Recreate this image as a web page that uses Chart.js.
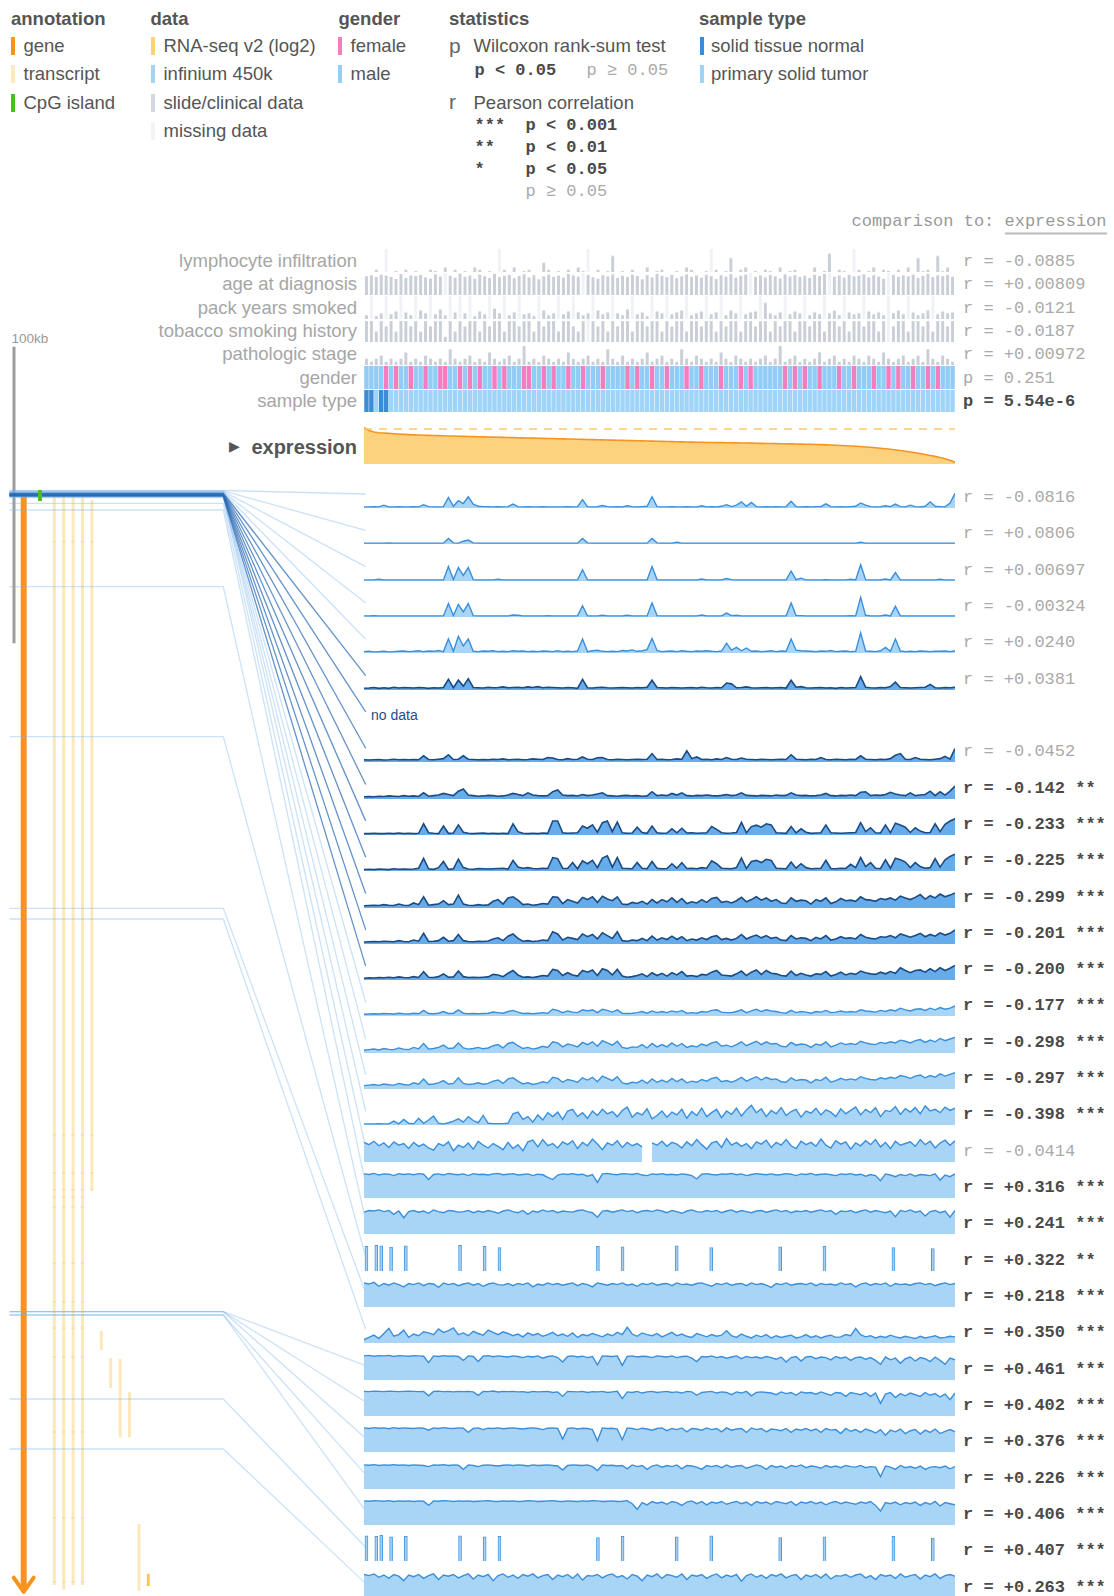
<!DOCTYPE html>
<html>
<head>
<meta charset="utf-8">
<title>Methylation and expression overview</title>
<script src="https://cdn.jsdelivr.net/npm/chart.js@4.4.1/dist/chart.umd.min.js"></script>
<style>
  html, body { margin: 0; padding: 0; background: #fff; }
  #page { position: relative; width: 1114px; height: 1596px; overflow: hidden; background: #fff; }
  .t { position: absolute; white-space: pre; line-height: 1; }
  canvas { position: absolute; }
</style>
</head>
<body>
<div id="page"></div>
<script>
// ---------------------------------------------------------------------------
// Data: samples ordered by expression (high to low)
// ---------------------------------------------------------------------------
const N = 120;
const sampleIdx = Array.from({ length: N }, (_, i) => i);

// RNA-seq v2 expression (log2), sorted
const expression = [
  12.40, 11.89, 11.63, 11.50, 11.44, 11.38, 11.32, 11.26, 11.21, 11.16,
  11.12, 11.09, 11.06, 11.03, 11.00, 10.98, 10.96, 10.93, 10.91, 10.88,
  10.86, 10.83, 10.81, 10.78, 10.76, 10.74, 10.72, 10.70, 10.68, 10.65,
  10.63, 10.61, 10.59, 10.57, 10.55, 10.53, 10.51, 10.49, 10.47, 10.44,
  10.42, 10.40, 10.38, 10.35, 10.33, 10.31, 10.28, 10.26, 10.24, 10.21,
  10.19, 10.17, 10.15, 10.12, 10.10, 10.08, 10.06, 10.03, 10.01, 9.99,
  9.97, 9.95, 9.93, 9.91, 9.89, 9.87, 9.85, 9.83, 9.81, 9.79,
  9.78, 9.76, 9.75, 9.73, 9.72, 9.71, 9.69, 9.68, 9.66, 9.64,
  9.63, 9.61, 9.60, 9.58, 9.56, 9.55, 9.53, 9.51, 9.49, 9.48,
  9.46, 9.43, 9.40, 9.36, 9.33, 9.29, 9.25, 9.21, 9.16, 9.12,
  9.07, 9.00, 8.93, 8.85, 8.77, 8.69, 8.58, 8.47, 8.36, 8.24,
  8.11, 7.97, 7.82, 7.66, 7.50, 7.34, 7.14, 6.92, 6.65, 6.32
];
const expressionCeiling = 12.15;
const expressionRange = [6.0, 12.5];

// Clinical data (null = missing)
const lymphocyteInfiltration = [
  0, 0, 5, 0, null, 0, 2, 0, 5, 0,
  2, 0, 0, 5, 2, 0, 10, 0, 5, 0,
  2, 0, 10, 5, 0, 2, 0, null, 5, 0,
  10, 0, 2, 5, 0, 0, 20, 5, 0, 2,
  0, 5, 0, 10, 2, null, 0, 5, 0, 2,
  35, 0, 2, 0, 5, 0, 0, 10, 0, 2,
  5, 0, 0, 2, 0, 10, 5, 0, 0, 2,
  null, 5, 0, 2, 30, 0, 5, 10, 0, 2,
  0, 5, 2, 0, 10, 0, 2, 5, 0, 0,
  0, 10, 0, 2, 40, 0, 5, 2, 0, null,
  5, 0, 2, 10, 0, 5, 2, 0, 5, 0,
  10, 0, 30, 2, 5, 0, 35, 2, 10, 0
];
const ageAtDiagnosis = [
  68, 72, 65, 74, 70, 66, 58, 76, 62, 71,
  69, 73, 64, 60, 75, 67, null, 70, 63, 78,
  66, 71, 59, 74, 68, 62, 77, 65, 70, 73,
  61, 69, 75, 64, 72, 57, 68, 74, 66, 70,
  63, 76, 71, 67, null, 73, 65, 59, 72, 68,
  75, 62, 70, 66, 74, 69, 57, 72, 64, 77,
  70, 65, 73, 61, 68, 75, 66, 71, 63, 74,
  69, 58, 72, 67, 76, 63, 70, 74, null, 66,
  71, 64, 73, 68, 60, 75, 67, 72, 65, 70,
  62, 74, 69, 76, null, 66, 71, 63, 73, 68,
  70, 75, 64, 72, 67, 59, null, 73, 66, 71,
  68, 74, 62, 70, 77, 65, 72, 69, 73, 67
];
const packYearsSmoked = [
  20, null, 15, 30, null, 25, 40, null, 35, 20,
  null, 45, 30, null, 25, 50, 20, null, 35, null,
  30, null, 15, 40, 25, null, 55, 30, null, 20,
  35, null, 25, 30, 15, null, 45, 20, 30, null,
  25, 40, null, 35, 20, 30, null, 45, 25, 35,
  null, 30, 20, 50, null, 25, 35, 15, null, 40,
  30, null, 25, 35, 45, null, 20, 30, 40, null,
  25, 35, null, 20, 45, 30, null, 25, 35, 40,
  null, 85, 30, 20, 35, null, 25, 40, 30, null,
  20, 35, 25, null, 30, 45, 20, null, 35, 25,
  30, null, 40, 25, 35, 20, null, 30, 45, 25,
  null, 35, 20, 30, 45, null, 25, 40, 30, 35
];
const tobaccoSmokingHistory = [
  4, 4, 2, 4, 3, 4, 2, 4, 4, 3,
  4, 2, 4, 3, 4, 4, 1, 4, 2, 4,
  3, 4, 4, 2, 4, 3, 4, 4, 2, 4,
  4, 3, 4, 4, 2, 4, 3, 4, 4, 2,
  4, 4, 3, 2, 4, null, 4, 3, 4, 2,
  4, 3, 4, 4, 2, 4, 4, 3, 4, 4,
  2, 4, 3, 4, 4, 2, 4, 4, 3, 4,
  4, 2, 4, 3, 4, 4, 2, 4, 4, 3,
  4, 4, 2, 4, 3, 4, 4, 2, 4, 4,
  3, 4, 4, 2, 4, 4, 3, 4, 2, 4,
  4, 3, 4, 4, 2, 4, null, 3, 4, 4,
  2, 4, 4, 3, 4, 2, 4, 4, 3, 4
];
const pathologicStage = [
  2, 1, 2, 3, 1, 2, 1, 2, 4, 1,
  2, 1, 3, 2, 1, 2, 1, 5, 2, 1,
  2, 3, 1, 2, 1, 4, 2, 1, 2, 3,
  1, 2, 6, 1, 2, 1, 3, 2, 1, 2,
  1, 4, 2, 1, 2, 3, 1, 2, 1, 5,
  2, 1, 3, 1, 2, 1, 2, 4, 1, 2,
  3, 1, 2, 1, 5, 2, 1, 3, 2, 1,
  2, 1, 4, 2, 1, 3, 2, 1, 2, 1,
  2, 3, 1, 2, 6, 1, 2, 3, 1, 2,
  1, 2, 4, 1, 2, 3, 1, 2, 1, 3,
  2, 1, 3, 2, 1, 4, 2, 1, 2, 3,
  1, 2, 3, 1, 5, 2, 1, 3, 2, 1
];
const femaleSamples = [4, 6, 9, 12, 15, 16, 19, 21, 23, 26, 28, 32, 33, 36, 38, 41, 44, 48, 53, 55,
  58, 61, 65, 68, 72, 76, 78, 85, 87, 89, 92, 96, 99, 103, 106, 108, 111, 114, 116];
const normalSamples = [0, 1, 3, 4];

const clinicalNames = ['lymphocyte infiltration', 'age at diagnosis', 'pack years smoked',
  'tobacco smoking history', 'pathologic stage', 'gender', 'sample type'];
const clinicalCorr = [-0.0885, 0.00809, -0.0121, -0.0187, 0.00972];
const genderP = 0.251;
const sampleTypeP = 5.54e-6;

// Infinium 450k beta values (x100), one array per probe, in genomic order
const meth01 = [
  4, 4, 5, 4, 10, 4, 4, 5, 4, 4,
  5, 4, 12, 5, 4, 4, 5, 38, 6, 26,
  16, 40, 14, 6, 5, 5, 4, 5, 4, 5,
  14, 5, 4, 5, 4, 4, 5, 4, 4, 4,
  4, 5, 4, 5, 30, 5, 4, 5, 9, 5,
  4, 5, 4, 8, 5, 4, 5, 6, 40, 5,
  4, 4, 5, 4, 4, 5, 4, 4, 8, 4,
  5, 4, 6, 12, 5, 10, 22, 6, 20, 5,
  4, 5, 4, 5, 4, 5, 24, 5, 4, 5,
  4, 5, 5, 15, 5, 4, 5, 4, 5, 6,
  18, 10, 5, 4, 5, 8, 5, 14, 5, 4,
  10, 5, 4, 6, 22, 6, 5, 4, 18, 52
];
const meth02 = [
  3, 3, 3, 3, 3, 4, 3, 3, 3, 3,
  3, 3, 3, 3, 3, 3, 3, 20, 4, 3,
  10, 14, 4, 3, 3, 3, 3, 3, 3, 3,
  3, 3, 3, 3, 3, 3, 3, 3, 3, 3,
  3, 3, 3, 3, 20, 4, 3, 3, 3, 3,
  3, 3, 3, 3, 3, 3, 3, 3, 20, 4,
  3, 3, 3, 6, 3, 3, 3, 3, 3, 3,
  3, 3, 3, 3, 3, 3, 3, 3, 3, 3,
  3, 3, 3, 3, 3, 3, 3, 3, 3, 3,
  3, 3, 3, 3, 3, 3, 3, 3, 3, 3,
  6, 3, 3, 3, 3, 3, 3, 3, 3, 3,
  3, 3, 3, 3, 3, 3, 3, 3, 3, 3
];
const meth03 = [
  4, 4, 4, 6, 4, 4, 4, 4, 4, 4,
  4, 4, 4, 4, 4, 4, 4, 52, 5, 48,
  20, 48, 5, 4, 4, 4, 4, 6, 4, 4,
  4, 4, 4, 4, 4, 4, 4, 4, 4, 4,
  4, 4, 4, 4, 40, 4, 4, 4, 4, 4,
  4, 4, 4, 4, 4, 4, 4, 4, 52, 5,
  4, 4, 4, 4, 4, 4, 4, 4, 7, 4,
  4, 4, 4, 9, 5, 4, 4, 4, 4, 4,
  4, 4, 4, 4, 4, 4, 35, 5, 10, 4,
  4, 4, 4, 5, 4, 4, 4, 4, 6, 4,
  58, 5, 4, 4, 4, 7, 4, 30, 4, 4,
  4, 4, 4, 4, 4, 4, 6, 4, 4, 4
];
const meth04 = [
  4, 4, 5, 4, 4, 4, 4, 4, 4, 4,
  4, 4, 4, 4, 4, 4, 4, 48, 5, 45,
  18, 48, 5, 4, 4, 4, 4, 4, 4, 4,
  7, 6, 4, 4, 4, 4, 4, 5, 4, 4,
  4, 4, 4, 4, 40, 4, 4, 4, 6, 4,
  4, 4, 4, 6, 4, 4, 4, 4, 50, 5,
  4, 4, 4, 4, 4, 4, 4, 4, 7, 4,
  4, 4, 4, 14, 5, 6, 4, 4, 4, 4,
  4, 4, 4, 4, 4, 4, 50, 5, 5, 4,
  4, 4, 4, 4, 4, 4, 4, 4, 5, 4,
  70, 6, 4, 4, 4, 7, 4, 38, 4, 4,
  4, 4, 4, 4, 4, 4, 4, 4, 4, 4
];
const meth05 = [
  5, 6, 4, 5, 6, 4, 5, 6, 7, 5,
  6, 8, 5, 7, 6, 9, 5, 50, 6, 60,
  25, 50, 6, 5, 7, 6, 8, 5, 6, 5,
  8, 6, 7, 5, 6, 5, 7, 6, 5, 8,
  5, 6, 5, 7, 50, 5, 8, 10, 6, 5,
  6, 5, 9, 7, 11, 6, 8, 12, 52, 9,
  5, 6, 7, 5, 8, 6, 5, 7, 6, 8,
  6, 5, 7, 35, 10, 20, 8, 18, 6, 7,
  5, 6, 8, 5, 7, 6, 50, 10, 8, 7,
  6, 5, 7, 6, 9, 5, 6, 7, 5, 6,
  72, 7, 6, 5, 8, 20, 6, 50, 7, 5,
  6, 5, 7, 6, 5, 6, 6, 7, 5, 8
];
const meth06 = [
  6, 7, 9, 6, 8, 6, 10, 7, 9, 8,
  7, 9, 8, 6, 8, 7, 9, 38, 8, 35,
  14, 40, 9, 8, 7, 10, 8, 9, 11, 8,
  9, 10, 8, 11, 9, 12, 8, 10, 9, 8,
  7, 9, 8, 6, 38, 8, 7, 9, 10, 8,
  7, 8, 9, 8, 7, 9, 8, 10, 35, 9,
  8, 7, 9, 8, 7, 8, 9, 7, 10, 8,
  7, 9, 8, 25, 22, 8, 9, 11, 8, 7,
  8, 9, 7, 8, 9, 7, 35, 10, 12, 8,
  7, 8, 9, 7, 8, 6, 9, 7, 8, 9,
  48, 10, 8, 7, 9, 8, 12, 28, 9, 8,
  7, 8, 9, 10, 20, 8, 7, 9, 8, 10
];
const meth07 = null; // probe without measurements
const meth08 = [
  8, 7, 8, 9, 7, 8, 10, 8, 9, 8,
  9, 8, 22, 9, 8, 10, 12, 26, 9, 10,
  22, 10, 9, 8, 9, 8, 10, 9, 11, 8,
  9, 10, 8, 9, 11, 10, 9, 16, 14, 9,
  8, 12, 9, 10, 18, 10, 9, 15, 16, 9,
  8, 10, 9, 8, 9, 10, 9, 10, 30, 9,
  10, 8, 9, 11, 10, 40, 12, 18, 9, 10,
  8, 11, 9, 16, 10, 9, 14, 10, 9, 8,
  10, 9, 8, 9, 10, 9, 26, 10, 9, 8,
  10, 9, 16, 9, 8, 10, 9, 8, 10, 9,
  22, 10, 9, 8, 10, 9, 12, 24, 30, 10,
  9, 16, 10, 9, 8, 10, 12, 20, 10, 48
];
const meth09 = [
  8, 9, 8, 10, 9, 11, 10, 9, 12, 10,
  11, 9, 22, 10, 12, 14, 20, 16, 12, 28,
  36, 14, 12, 10, 11, 13, 12, 10, 11, 14,
  20, 16, 12, 22, 14, 12, 11, 12, 26, 32,
  14, 12, 13, 11, 16, 12, 14, 18, 22, 12,
  11, 10, 12, 13, 11, 12, 10, 11, 26, 12,
  14, 12, 20, 14, 22, 12, 11, 13, 12, 14,
  12, 11, 13, 16, 12, 14, 22, 13, 12, 11,
  13, 12, 11, 14, 12, 13, 22, 14, 12, 13,
  11, 12, 14, 20, 12, 11, 13, 12, 14, 12,
  24, 26, 12, 14, 13, 16, 24, 18, 14, 12,
  22, 12, 14, 16, 28, 12, 26, 14, 28, 46
];
const meth10 = [
  5, 5, 6, 5, 5, 6, 5, 7, 5, 6,
  5, 6, 40, 8, 6, 5, 32, 6, 7, 36,
  10, 6, 5, 6, 7, 5, 6, 5, 6, 5,
  40, 12, 6, 5, 6, 5, 7, 6, 50, 50,
  8, 6, 7, 8, 32, 24, 36, 10, 44, 50,
  12, 46, 8, 6, 7, 28, 9, 6, 32, 8,
  6, 7, 22, 8, 24, 7, 8, 6, 7, 8,
  30, 20, 8, 6, 7, 9, 45, 8, 30, 35,
  28, 40, 36, 8, 7, 6, 30, 8, 22, 10,
  6, 7, 8, 36, 8, 7, 6, 7, 8, 9,
  44, 12, 26, 8, 7, 36, 8, 42, 36, 28,
  9, 26, 14, 8, 9, 40, 12, 38, 50, 58
];
const meth11 = [
  5, 6, 5, 7, 6, 5, 8, 6, 7, 6,
  7, 10, 45, 8, 6, 12, 34, 6, 8, 42,
  12, 7, 6, 9, 8, 7, 8, 9, 10, 7,
  38, 14, 10, 12, 9, 8, 10, 9, 48, 44,
  10, 9, 30, 8, 36, 26, 38, 12, 46, 54,
  14, 48, 10, 9, 8, 30, 10, 8, 34, 10,
  8, 9, 26, 10, 30, 9, 10, 8, 12, 10,
  36, 26, 10, 9, 8, 12, 46, 9, 34, 38,
  30, 42, 38, 10, 9, 8, 32, 10, 26, 12,
  8, 9, 10, 38, 9, 8, 10, 9, 24, 12,
  48, 16, 30, 10, 9, 40, 10, 46, 40, 32,
  12, 30, 16, 10, 12, 44, 14, 40, 52, 60
];
const meth12 = [
  8, 9, 10, 9, 12, 10, 9, 14, 10, 9,
  18, 12, 40, 10, 12, 14, 26, 12, 14, 46,
  14, 10, 9, 12, 10, 11, 24, 30, 14, 36,
  40, 28, 12, 14, 10, 12, 16, 14, 40, 38,
  16, 30, 24, 18, 38, 30, 40, 20, 42, 32,
  26, 40, 14, 12, 20, 16, 24, 14, 30, 18,
  30, 22, 36, 20, 34, 16, 22, 18, 30, 20,
  34, 38, 20, 24, 18, 26, 38, 22, 30, 40,
  28, 36, 24, 30, 18, 16, 36, 24, 28, 26,
  14, 30, 24, 36, 16, 22, 34, 26, 28, 24,
  40, 30, 28, 24, 34, 30, 36, 28, 42, 36,
  30, 38, 48, 32, 44, 36, 50, 40, 46, 54
];
const meth13 = [
  7, 8, 9, 8, 10, 9, 8, 12, 9, 8,
  14, 10, 38, 9, 10, 12, 24, 10, 12, 34,
  12, 9, 8, 10, 9, 11, 18, 22, 12, 28,
  36, 20, 10, 12, 9, 11, 14, 12, 44, 36,
  14, 24, 20, 16, 36, 26, 34, 18, 40, 30,
  20, 44, 12, 10, 14, 12, 20, 12, 28, 14,
  22, 16, 28, 16, 26, 12, 18, 14, 22, 16,
  26, 30, 16, 20, 14, 20, 34, 18, 26, 32,
  22, 30, 20, 24, 14, 12, 30, 18, 22, 20,
  12, 24, 18, 30, 14, 18, 26, 20, 22, 18,
  34, 24, 20, 18, 26, 24, 30, 22, 36, 30,
  24, 30, 38, 26, 34, 28, 40, 32, 38, 50
];
const meth14 = [
  6, 8, 7, 9, 8, 10, 8, 11, 9, 8,
  12, 9, 30, 10, 9, 12, 22, 10, 11, 32,
  12, 9, 10, 9, 10, 11, 20, 18, 12, 24,
  34, 18, 10, 11, 9, 12, 16, 14, 38, 34,
  16, 26, 18, 14, 34, 28, 36, 16, 40, 34,
  18, 38, 14, 10, 12, 16, 22, 12, 26, 16,
  24, 14, 26, 18, 30, 14, 16, 12, 20, 18,
  28, 34, 18, 16, 14, 22, 32, 16, 28, 36,
  20, 34, 24, 22, 16, 14, 32, 16, 24, 18,
  14, 22, 20, 30, 14, 20, 28, 18, 24, 20,
  32, 26, 22, 20, 28, 22, 30, 24, 44, 34,
  26, 34, 36, 28, 40, 30, 44, 34, 42, 52
];
const meth15 = [
  6, 7, 8, 7, 9, 8, 7, 10, 8, 7,
  10, 8, 20, 9, 8, 10, 16, 9, 10, 22,
  10, 8, 9, 8, 9, 10, 14, 12, 10, 16,
  20, 14, 9, 10, 8, 10, 12, 10, 24, 20,
  12, 18, 14, 12, 22, 18, 22, 12, 24, 20,
  14, 22, 10, 9, 10, 12, 16, 10, 18, 12,
  16, 12, 18, 14, 20, 10, 12, 10, 16, 14,
  20, 22, 14, 12, 12, 16, 22, 12, 18, 24,
  16, 22, 18, 16, 12, 10, 20, 12, 16, 14,
  10, 16, 14, 20, 12, 14, 18, 14, 16, 14,
  22, 18, 16, 14, 20, 16, 22, 18, 28, 22,
  18, 24, 26, 20, 28, 22, 30, 24, 28, 36
];
const meth16 = [
  10, 12, 14, 11, 16, 13, 12, 18, 14, 12,
  20, 15, 34, 14, 16, 20, 28, 16, 18, 36,
  18, 14, 16, 20, 15, 18, 26, 30, 18, 34,
  38, 26, 16, 20, 14, 18, 24, 20, 40, 36,
  22, 32, 28, 22, 38, 30, 40, 24, 44, 36,
  28, 42, 20, 16, 22, 20, 30, 18, 34, 22,
  30, 22, 36, 24, 34, 20, 26, 22, 32, 26,
  36, 40, 24, 28, 22, 30, 40, 26, 34, 42,
  30, 40, 32, 34, 24, 22, 38, 28, 32, 30,
  20, 32, 28, 40, 22, 28, 36, 30, 34, 30,
  42, 36, 32, 30, 38, 34, 40, 36, 46, 42,
  36, 44, 48, 38, 46, 40, 52, 44, 50, 56
];
const meth17 = [
  12, 14, 16, 13, 18, 15, 14, 20, 16, 14,
  22, 17, 36, 16, 18, 22, 30, 18, 20, 40,
  20, 16, 18, 22, 17, 20, 28, 32, 20, 36,
  40, 28, 18, 22, 16, 20, 26, 22, 42, 38,
  24, 34, 30, 24, 40, 32, 42, 26, 46, 38,
  30, 44, 22, 18, 24, 22, 32, 20, 36, 24,
  32, 24, 38, 26, 36, 22, 28, 24, 34, 28,
  38, 42, 26, 30, 24, 32, 42, 28, 36, 44,
  32, 42, 34, 36, 26, 24, 40, 30, 34, 32,
  22, 34, 30, 42, 24, 30, 38, 32, 36, 32,
  44, 38, 34, 32, 40, 36, 42, 38, 48, 44,
  38, 46, 50, 40, 48, 42, 54, 46, 52, 58
];
const meth18 = [
  4, 4, 4, 5, 4, 4, 14, 4, 20, 6,
  4, 24, 6, 18, 32, 6, 4, 8, 14, 22,
  10, 30, 16, 8, 34, 6, 5, 5, 5, 6,
  40, 46, 20, 30, 10, 36, 18, 44, 30, 46,
  20, 50, 56, 30, 44, 24, 50, 34, 56, 40,
  48, 30, 52, 64, 28, 44, 36, 58, 22, 34,
  50, 28, 46, 36, 56, 24, 48, 34, 60, 30,
  44, 56, 26, 50, 38, 60, 32, 54, 70, 44,
  58, 30, 52, 40, 62, 34, 48, 56, 28, 50,
  42, 60, 36, 54, 46, 30, 58, 40, 52, 64,
  36, 56, 44, 62, 30, 52, 48, 66, 38, 58,
  46, 62, 40, 68, 50, 56, 44, 64, 52, 60
];
const meth19 = [
  70, 62, 74, 58, 68, 52, 72, 60, 66, 48,
  70, 56, 64, 50, 42, 66, 58, 72, 40, 60,
  52, 68, 46, 74, 60, 50, 66, 56, 44, 70,
  48, 62, 40, 72, 78, 54, 80, 58, 66, 50,
  72, 62, 76, 48, 70, 58, 82, 64, 44, 68,
  60, 76, 52, 70, 58, 66, 54, null, 68, 60,
  74, 56, 70, 64, 50, 72, 58, 80, 62, 46,
  68, 74, 52, 84, 60, 70, 56, 66, 48, 72,
  64, 78, 52, 70, 60, 80, 58, 48, 74, 62,
  70, 56, 82, 60, 50, 76, 64, 72, 46, 68,
  58, 76, 62, 80, 54, 70, 48, 74, 60, 66,
  72, 56, 80, 62, 74, 50, 68, 78, 60, 76
];
const meth20 = [
  86, 84, 88, 82, 86, 85, 80, 87, 84, 86,
  83, 87, 85, 66, 84, 86, 82, 88, 85, 83,
  86, 80, 87, 84, 85, 82, 86, 88, 83, 85,
  87, 82, 84, 86, 80, 85, 83, 74, 66, 82,
  86, 84, 87, 83, 85, 78, 84, 56, 86, 88,
  85, 83, 87, 86, 84, 88, 82, 80, 86, 84,
  87, 83, 85, 82, 86, 84, 80, 68, 85, 87,
  84, 82, 86, 85, 88, 83, 86, 80, 84, 87,
  85, 83, 86, 82, 84, 87, 85, 80, 86, 84,
  88, 82, 85, 86, 83, 80, 86, 84, 87, 82,
  85, 78, 84, 80, 62, 86, 82, 76, 84, 80,
  86, 78, 84, 82, 80, 86, 64, 82, 76, 86
];
const meth21 = [
  78, 84, 82, 86, 80, 84, 70, 82, 58, 80,
  84, 78, 82, 74, 86, 80, 76, 84, 82, 78,
  80, 84, 76, 82, 78, 84, 80, 74, 82, 86,
  80, 76, 84, 70, 82, 78, 86, 80, 84, 76,
  82, 80, 78, 84, 86, 80, 76, 60, 82, 84,
  78, 82, 86, 80, 84, 76, 82, 84, 80, 86,
  82, 76, 84, 80, 74, 82, 86, 80, 78, 84,
  80, 84, 76, 82, 86, 78, 84, 80, 76, 82,
  84, 78, 82, 86, 80, 84, 76, 82, 80, 84,
  78, 82, 86, 80, 84, 70, 82, 80, 84, 76,
  82, 86, 78, 84, 80, 76, 82, 62, 84, 80,
  86, 78, 82, 64, 80, 84, 76, 82, 60, 84
];
// probe measured in only a few samples
const meth22Samples = [0, 2, 3, 5, 8, 19, 24, 27, 47, 52, 63, 70, 84, 93, 107, 115];
const meth22Values = [88, 92, 90, 85, 90, 92, 88, 84, 88, 86, 90, 84, 86, 88, 84, 80];
const meth23 = [
  86, 82, 88, 74, 84, 78, 86, 80, 72, 84,
  80, 86, 76, 84, 82, 70, 86, 80, 84, 76,
  82, 86, 78, 84, 74, 82, 86, 80, 78, 84,
  76, 84, 80, 86, 72, 82, 78, 86, 80, 84,
  78, 82, 86, 76, 84, 80, 72, 86, 82, 78,
  84, 80, 86, 78, 82, 74, 84, 80, 86, 78,
  82, 84, 76, 86, 80, 82, 78, 84, 86, 80,
  74, 84, 80, 86, 78, 82, 84, 76, 86, 80,
  84, 78, 70, 84, 80, 86, 78, 82, 84, 80,
  86, 76, 84, 80, 82, 78, 86, 80, 84, 72,
  82, 86, 78, 84, 80, 86, 74, 84, 80, 82,
  78, 84, 86, 80, 84, 76, 82, 86, 80, 84
];
const meth24 = [
  12, 20, 28, 16, 34, 52, 24, 30, 46, 20,
  32, 26, 40, 36, 30, 50, 38, 44, 54, 30,
  36, 26, 42, 34, 28, 46, 38, 30, 40, 34,
  26, 32, 22, 36, 28, 34, 24, 30, 38, 26,
  32, 24, 36, 20, 30, 26, 34, 28, 22, 32,
  26, 38, 30, 56, 32, 24, 36, 30, 26, 34,
  22, 30, 38, 26, 32, 24, 20, 34, 28, 22,
  30, 24, 28, 44, 26, 20, 32, 24, 18, 28,
  22, 30, 18, 26, 20, 24, 28, 18, 22, 30,
  20, 26, 18, 24, 28, 20, 22, 30, 26, 52,
  30, 22, 26, 18, 24, 20, 28, 22, 18, 24,
  20, 16, 24, 18, 22, 26, 18, 20, 24, 22
];
const meth25 = [
  86, 88, 85, 87, 86, 88, 84, 87, 86, 85,
  87, 86, 85, 62, 86, 84, 87, 85, 86, 84,
  70, 86, 84, 66, 85, 87, 83, 86, 84, 82,
  86, 84, 80, 85, 82, 86, 78, 84, 86, 80,
  64, 84, 86, 82, 85, 80, 84, 54, 86, 85,
  84, 86, 52, 84, 86, 82, 85, 84, 80, 86,
  84, 82, 86, 80, 84, 85, 78, 66, 84, 82,
  86, 80, 84, 78, 82, 86, 76, 84, 80, 82,
  78, 84, 80, 74, 82, 64, 80, 84, 68, 82,
  84, 76, 82, 80, 72, 84, 78, 82, 70, 80,
  82, 74, 80, 70, 56, 82, 72, 78, 60, 76,
  82, 68, 80, 76, 66, 82, 70, 56, 78, 72
];
const meth26 = [
  88, 87, 89, 88, 87, 89, 88, 87, 88, 89,
  88, 87, 88, 72, 88, 89, 87, 88, 86, 88,
  87, 88, 86, 74, 88, 87, 89, 86, 88, 87,
  88, 86, 87, 84, 88, 86, 87, 88, 84, 86,
  70, 88, 87, 86, 88, 84, 87, 86, 88, 84,
  86, 88, 62, 86, 84, 88, 82, 86, 88, 84,
  86, 88, 84, 86, 82, 88, 86, 74, 84, 86,
  88, 82, 86, 84, 76, 86, 82, 88, 72, 84,
  86, 84, 82, 76, 86, 80, 84, 74, 86, 82,
  84, 78, 86, 80, 74, 84, 82, 70, 84, 80,
  76, 84, 70, 82, 45, 78, 84, 66, 80, 72,
  82, 76, 70, 84, 74, 80, 68, 78, 58, 82
];
const meth27 = [
  86, 84, 87, 85, 86, 83, 87, 84, 86, 85,
  84, 86, 85, 78, 86, 84, 87, 85, 84, 86,
  85, 70, 84, 86, 80, 85, 84, 86, 83, 85,
  86, 84, 82, 85, 86, 84, 80, 85, 86, 84,
  46, 84, 86, 82, 85, 84, 80, 40, 86, 84,
  85, 82, 44, 86, 84, 80, 85, 82, 78, 84,
  86, 76, 84, 80, 86, 72, 84, 82, 78, 86,
  80, 84, 72, 86, 78, 82, 84, 70, 86, 80,
  84, 72, 82, 80, 76, 84, 70, 82, 78, 84,
  76, 82, 70, 84, 78, 80, 66, 84, 74, 80,
  70, 82, 76, 68, 80, 60, 78, 72, 82, 66,
  76, 80, 64, 78, 70, 82, 66, 74, 80, 72
];
const meth28 = [
  86, 85, 87, 84, 86, 85, 87, 85, 86, 84,
  86, 85, 84, 80, 86, 85, 87, 84, 86, 85,
  70, 86, 84, 80, 85, 86, 84, 82, 85, 86,
  84, 86, 85, 82, 86, 84, 85, 86, 84, 82,
  68, 84, 86, 85, 84, 86, 80, 66, 86, 84,
  85, 82, 84, 72, 86, 80, 84, 70, 82, 86,
  78, 84, 80, 86, 72, 84, 82, 78, 70, 84,
  80, 84, 76, 86, 78, 82, 84, 74, 80, 86,
  82, 70, 84, 78, 82, 74, 84, 80, 86, 76,
  82, 80, 74, 84, 78, 82, 76, 84, 80, 78,
  84, 76, 80, 78, 44, 82, 78, 70, 84, 76,
  80, 74, 82, 70, 78, 80, 76, 82, 72, 80
];
const meth29 = [
  86, 85, 87, 86, 85, 87, 84, 86, 85, 86,
  84, 86, 85, 70, 86, 85, 87, 86, 84, 86,
  85, 86, 84, 85, 86, 87, 85, 84, 86, 85,
  86, 84, 85, 87, 86, 84, 85, 86, 87, 85,
  84, 86, 85, 84, 86, 85, 87, 86, 84, 85,
  86, 84, 85, 87, 76, 56, 80, 72, 84, 78,
  82, 74, 84, 80, 70, 82, 86, 76, 84, 72,
  82, 78, 84, 74, 80, 84, 76, 82, 70, 84,
  78, 82, 74, 84, 80, 76, 84, 70, 82, 78,
  84, 76, 82, 72, 80, 84, 76, 82, 78, 74,
  82, 78, 84, 70, 50, 80, 76, 82, 72, 80,
  76, 82, 70, 80, 74, 84, 68, 80, 76, 72
];
const meth30Samples = [0, 2, 3, 5, 8, 19, 24, 27, 47, 52, 63, 70, 84, 93, 107, 115];
const meth30Values = [90, 88, 92, 86, 88, 90, 86, 88, 84, 88, 86, 90, 84, 86, 88, 82];
const meth31 = [
  84, 80, 86, 74, 82, 70, 84, 78, 62, 82,
  76, 84, 70, 80, 86, 66, 82, 78, 84, 72,
  80, 86, 68, 82, 76, 84, 62, 80, 86, 74,
  82, 70, 84, 78, 86, 72, 80, 84, 66, 82,
  76, 84, 70, 86, 64, 80, 78, 84, 72, 82,
  86, 74, 80, 68, 84, 78, 62, 82, 76, 86,
  70, 84, 80, 74, 86, 66, 82, 78, 84, 70,
  80, 86, 72, 82, 76, 84, 60, 80, 86, 74,
  82, 70, 84, 78, 86, 72, 80, 84, 66, 82,
  76, 84, 72, 86, 68, 80, 78, 84, 74, 82,
  86, 72, 80, 66, 84, 78, 82, 70, 86, 74,
  80, 84, 68, 82, 76, 86, 70, 80, 84, 78
];

// Pearson r of each probe against expression, and significance stars
const methCorr = [-0.0816, 0.0806, 0.00697, -0.00324, 0.0240, 0.0381, null, -0.0452, -0.142, -0.233,
  -0.225, -0.299, -0.201, -0.200, -0.177, -0.298, -0.297, -0.398, -0.0414, 0.316,
  0.241, 0.322, 0.218, 0.350, 0.461, 0.402, 0.376, 0.226, 0.406, 0.407, 0.263];
const methStars = ['', '', '', '', '', '', '', '', '**', '***',
  '***', '***', '***', '***', '***', '***', '***', '***', '', '***',
  '***', '**', '***', '***', '***', '***', '***', '***', '***', '***', '***'];

// Genomic annotation (kb from the gene start, downwards)
const probeKb = [-1.52, -1.35, -1.18, -1.01, -0.84, -0.67, -0.51, -0.34, -0.24, -0.13,
  0, 0.10, 0.20, 0.34, 0.44, 0.54, 0.67, 0.84, 2.80, 5.06,
  30.91, 81.46, 139.30, 142.91, 275.26, 275.26, 275.26, 276.37, 276.37, 304.68, 321.54];
const geneSpanKb = [0, 369.7];
const cpgIslandKb = [-1.7, 2.0];
const transcriptStartKb = [0, 0.3, 0.3, 0.7, 1.7, 281.8, 290.9, 291.2, 302.2, 346.8, 363.6];
const transcriptEndKb = [367.4, 369.0, 367.4, 367.4, 234.2, 288.2, 301.0, 317.5, 317.6, 369.3, 367.7];
const exonKb = [15.7, 215.7, 228.5, 234.2, 236.6, 240.0, 258.9, 272.0, 280.8, 290.5, 315.8, 344.8, 366.4];
const scaleBarKb = 100;

// ---------------------------------------------------------------------------
// Layout and styles
// ---------------------------------------------------------------------------
const SANS = '"Liberation Sans", Arial, sans-serif';
const MONO = '"Liberation Mono", "DejaVu Sans Mono", monospace';
const TRACK_LEFT = 364, TRACK_WIDTH = 591;
const STAT_X = 963;
const CLIN_FIRST = 260.7, CLIN_PITCH = 23.43;
const METH_FIRST = 497, METH_PITCH = 36.32;
const GENE_TOP_Y = 495, PX_PER_KB = 2.967;
const CONNECT_X0 = 9.5, CONNECT_BEND = 223.3, CONNECT_END = 365.7;
const GENE_X = 23.7, CPG_X = 40, SCALE_X = 14, LANE0_X = 54.3, LANE_GAP = 9.4;
const darkRows = new Set([6, 8, 9, 10, 11, 12, 13, 14]);

const page = document.getElementById('page');

function text(str, x, y, o = {}) {
  const d = document.createElement('div');
  d.className = 't';
  d.textContent = str;
  d.style.left = x + 'px';
  d.style.top = y + 'px';
  d.style.fontFamily = o.mono ? MONO : SANS;
  d.style.fontSize = (o.size || 18.5) + 'px';
  d.style.fontWeight = o.weight || 'normal';
  d.style.color = o.color || '#555';
  d.style.transform = o.right ? 'translate(-100%,-50%)' : 'translateY(-50%)';
  if (o.z) d.style.zIndex = o.z;
  page.appendChild(d);
  return d;
}
function swatch(x, y, color) {
  const d = document.createElement('div');
  d.style.cssText = `position:absolute;left:${x}px;top:${y - 9}px;width:4px;height:18px;background:${color};`;
  page.appendChild(d);
}
function canvasAt(x, y, w, h, z) {
  const c = document.createElement('canvas');
  c.width = w; c.height = h;
  c.style.cssText = `left:${x}px;top:${y}px;width:${w}px;height:${h}px;z-index:${z || 1};`;
  page.appendChild(c);
  return c;
}
const baseOptions = {
  responsive: false, animation: false, events: [], devicePixelRatio: 1,
  layout: { padding: 0, autoPadding: false },
  plugins: { legend: { display: false }, tooltip: { enabled: false } }
};
function fmtSigned(v) { return (v < 0 ? '-' : '+') + Math.abs(v).toPrecision(3); }

// ---------------------------------------------------------------------------
// Legend
// ---------------------------------------------------------------------------
const HEAD_Y = 18.5, ITEM_Y = [46, 74.3, 102.5, 130.7];
text('annotation', 11, HEAD_Y, { weight: 'bold' });
[['gene', '#f7931e'], ['transcript', '#fde9bf'], ['CpG island', '#4cbf1d']].forEach(([s, c], i) => {
  swatch(11, ITEM_Y[i], c); text(s, 23.5, ITEM_Y[i]);
});
text('data', 150.5, HEAD_Y, { weight: 'bold' });
[['RNA-seq v2 (log2)', '#fdd07a'], ['infinium 450k', '#a6d2f6'], ['slide/clinical data', '#d3d8e0'], ['missing data', '#f4f4f4']].forEach(([s, c], i) => {
  swatch(150.5, ITEM_Y[i], c); text(s, 163.5, ITEM_Y[i]);
});
text('gender', 338.5, HEAD_Y, { weight: 'bold' });
[['female', '#f47cc1'], ['male', '#93cef6']].forEach(([s, c], i) => {
  swatch(337.5, ITEM_Y[i], c); text(s, 350.5, ITEM_Y[i]);
});
text('statistics', 449, HEAD_Y, { weight: 'bold' });
text('p', 449, 45, { size: 21, color: '#666' });
text('Wilcoxon rank-sum test', 473.5, 46);
text('p < 0.05', 474.5, 69.5, { mono: true, size: 17, weight: 'bold', color: '#4a4a4a' });
text('p \u2265 0.05', 586.5, 69.5, { mono: true, size: 17, color: '#aaa' });
text('r', 449, 100.5, { size: 21, color: '#666' });
text('Pearson correlation', 473.5, 102.5);
text('***  p < 0.001', 474.5, 125, { mono: true, size: 17, weight: 'bold', color: '#4a4a4a' });
text('**   p < 0.01', 474.5, 147, { mono: true, size: 17, weight: 'bold', color: '#4a4a4a' });
text('*    p < 0.05', 474.5, 169, { mono: true, size: 17, weight: 'bold', color: '#4a4a4a' });
text('     p \u2265 0.05', 474.5, 191, { mono: true, size: 17, color: '#aaa' });
text('sample type', 699, HEAD_Y, { weight: 'bold' });
[['solid tissue normal', '#3b8bd6'], ['primary solid tumor', '#9fd4f8']].forEach(([s, c], i) => {
  swatch(699.5, ITEM_Y[i], c); text(s, 711, ITEM_Y[i]);
});
text('comparison to: ', 851.5, 221, { mono: true, size: 17, color: '#999' });
const cmp = text('expression', 1004.5, 221, { mono: true, size: 17, color: '#999' });
cmp.style.borderBottom = '2px solid #bbb';
cmp.style.paddingBottom = '3px';
cmp.style.transform = 'translateY(-8.5px)';

// ---------------------------------------------------------------------------
// Clinical tracks
// ---------------------------------------------------------------------------
const clinicalSeries = [lymphocyteInfiltration, ageAtDiagnosis, packYearsSmoked, tobaccoSmokingHistory, pathologicStage];
const clinicalMax = [50, 80, 120, 4.4, 7];
clinicalNames.forEach((name, i) => {
  text(name, 357, CLIN_FIRST + i * CLIN_PITCH, { right: true, color: '#a6a6a6' });
});
clinicalSeries.forEach((series, i) => {
  const cy = CLIN_FIRST + i * CLIN_PITCH;
  const cv = canvasAt(TRACK_LEFT, cy - 11.5, TRACK_WIDTH, 22.5, 2);
  const max = clinicalMax[i];
  new Chart(cv, {
    type: 'bar',
    data: {
      labels: sampleIdx,
      datasets: [
        { data: series, backgroundColor: '#c9ced7', grouped: false, barPercentage: 0.6, categoryPercentage: 1, order: 1 },
        { data: series.map(v => (v === null ? max : null)), backgroundColor: '#f0f2f5', grouped: false, barPercentage: 0.6, categoryPercentage: 1, order: 2 }
      ]
    },
    options: { ...baseOptions, scales: { x: { display: false }, y: { display: false, min: 0, max } } }
  });
  const r = clinicalCorr[i];
  text('r = ' + fmtSigned(r), STAT_X, cy, { mono: true, size: 17, color: '#aaa' });
});

function categoryBand(row, colors) {
  const cy = CLIN_FIRST + row * CLIN_PITCH;
  const cv = canvasAt(TRACK_LEFT, cy - 11.5, TRACK_WIDTH, 22.5, 2);
  new Chart(cv, {
    type: 'bar',
    data: { labels: sampleIdx, datasets: [{ data: sampleIdx.map(() => 1), backgroundColor: colors, barPercentage: 0.9, categoryPercentage: 1 }] },
    options: { ...baseOptions, scales: { x: { display: false }, y: { display: false, min: 0, max: 1 } } }
  });
  return cy;
}
const femaleSet = new Set(femaleSamples), normalSet = new Set(normalSamples);
const gy = categoryBand(5, sampleIdx.map(i => (femaleSet.has(i) ? '#f47cc1' : '#90ccf6')));
text('p = ' + genderP.toPrecision(3), STAT_X, gy, { mono: true, size: 17, color: '#aaa' });
const sy = categoryBand(6, sampleIdx.map(i => (normalSet.has(i) ? '#3b8bd6' : '#9fd4f8')));
text('p = ' + sampleTypeP.toExponential(2), STAT_X, sy, { mono: true, size: 17, weight: 'bold', color: '#4a4a4a' });

// ---------------------------------------------------------------------------
// Expression track
// ---------------------------------------------------------------------------
text('\u25B6', 229, 446, { size: 14, color: '#555' });
text('expression', 357, 446.5, { right: true, weight: 'bold', size: 20, color: '#555' });
new Chart(canvasAt(TRACK_LEFT, 427, TRACK_WIDTH, 37, 2), {
  type: 'line',
  data: {
    labels: sampleIdx,
    datasets: [
      { data: sampleIdx.map(() => expressionCeiling), borderColor: '#fdc766', borderWidth: 1.6, borderDash: [8, 7], pointRadius: 0, fill: false },
      { data: expression, borderColor: '#f7931e', borderWidth: 1.6, backgroundColor: '#fdd27f', fill: 'start', pointRadius: 0, tension: 0 }
    ]
  },
  options: { ...baseOptions, scales: { x: { display: false }, y: { display: false, min: expressionRange[0], max: expressionRange[1] } } }
});

// ---------------------------------------------------------------------------
// Methylation tracks
// ---------------------------------------------------------------------------
function expandSparse(samples, values) {
  const out = sampleIdx.map(() => null);
  samples.forEach((s, k) => { out[s] = values[k]; });
  return out;
}
const methSeries = [meth01, meth02, meth03, meth04, meth05, meth06, meth07, meth08, meth09, meth10,
  meth11, meth12, meth13, meth14, meth15, meth16, meth17, meth18, meth19, meth20,
  meth21, expandSparse(meth22Samples, meth22Values), meth23, meth24, meth25, meth26, meth27, meth28, meth29,
  expandSparse(meth30Samples, meth30Values), meth31];
const sparseRows = new Set([22, 30]);
const rowCenter = i => METH_FIRST + i * METH_PITCH;

methSeries.forEach((values, i) => {
  const row = i + 1, cy = rowCenter(i);
  if (values === null) {
    text('no data', 371, cy, { size: 14, color: '#1f4f87' });
    return;
  }
  const dark = darkRows.has(row);
  const cv = canvasAt(TRACK_LEFT, cy - 17, TRACK_WIDTH, 28, 2);
  const scales = { x: { display: false }, y: { display: false, min: 0, max: 100 } };
  if (sparseRows.has(row)) {
    new Chart(cv, {
      type: 'bar',
      data: { labels: sampleIdx, datasets: [{ data: values, backgroundColor: '#a3d0f5', borderColor: '#4b9ade', borderWidth: 1, barThickness: 3 }] },
      options: { ...baseOptions, scales }
    });
  } else {
    new Chart(cv, {
      type: 'line',
      data: {
        labels: sampleIdx,
        datasets: [{
          data: values, borderColor: dark ? '#1c4b82' : '#3a8fdb', backgroundColor: dark ? '#66acea' : '#a8d4f6',
          borderWidth: dark ? 1.6 : 1.4, fill: 'start', pointRadius: 0, tension: 0, spanGaps: false
        }]
      },
      options: { ...baseOptions, scales }
    });
  }
  const r = methCorr[i], stars = methStars[i];
  const sig = stars !== '';
  text('r = ' + fmtSigned(r) + (sig ? ' ' + stars : ''), STAT_X, cy,
    { mono: true, size: 17, weight: sig ? 'bold' : 'normal', color: sig ? '#4a4a4a' : '#aaa' });
});

// ---------------------------------------------------------------------------
// Genome panel: gene, transcripts, CpG island, probes and their connectors
// ---------------------------------------------------------------------------
text('100kb', 11.5, 338.5, { size: 13.5, color: '#999' });
const kbAtY = y => (y - GENE_TOP_Y) / PX_PER_KB;
const genomeDatasets = [];
probeKb.forEach((kb, i) => {
  const dark = darkRows.has(i + 1) || i + 1 === 7;
  genomeDatasets.push({
    data: [{ x: CONNECT_X0, y: kb }, { x: CONNECT_BEND, y: kb }, { x: CONNECT_END, y: kbAtY(rowCenter(i) - 3) }],
    borderColor: dark ? 'rgba(40,105,180,0.72)' : 'rgba(120,178,235,0.38)',
    borderWidth: 1.3, order: 2
  });
});
transcriptStartKb.forEach((s, k) => {
  genomeDatasets.push({
    data: [{ x: LANE0_X + k * LANE_GAP, y: s }, { x: LANE0_X + k * LANE_GAP, y: transcriptEndKb[k] }],
    borderColor: k === 10 ? '#f9c851' : '#fde8bb', borderWidth: 3, order: 5
  });
});
const exonPoints = [];
exonKb.forEach(kb => {
  for (let k = 0; k < 5; k++) {
    if (kb >= transcriptStartKb[k] && kb <= transcriptEndKb[k]) exonPoints.push({ x: LANE0_X + k * LANE_GAP, y: kb });
  }
});
genomeDatasets.push({ data: exonPoints, showLine: false, pointStyle: 'line', pointRadius: 1.6, pointBorderWidth: 1.6, pointBorderColor: '#fcdca0', order: 4 });
genomeDatasets.push({
  data: [{ x: GENE_X, y: geneSpanKb[0] }, { x: GENE_X, y: geneSpanKb[1] - 1 }],
  borderColor: '#f7931e', borderWidth: 6, order: 3
});
genomeDatasets.push({
  data: [{ x: GENE_X - 10, y: geneSpanKb[1] - 4.8 }, { x: GENE_X, y: geneSpanKb[1] }, { x: GENE_X + 10, y: geneSpanKb[1] - 4.8 }],
  borderColor: '#f7931e', borderWidth: 4, borderCapStyle: 'round', borderJoinStyle: 'round', order: 3
});
genomeDatasets.push({
  data: [{ x: CPG_X, y: cpgIslandKb[0] }, { x: CPG_X, y: cpgIslandKb[1] }],
  borderColor: '#4cbf1d', borderWidth: 4, order: 1
});
genomeDatasets.push({
  data: [{ x: SCALE_X, y: -scaleBarKb / 2 }, { x: SCALE_X, y: scaleBarKb / 2 }],
  borderColor: '#9d9d9d', borderWidth: 3, order: 6
});
genomeDatasets.forEach(d => { d.showLine = d.showLine !== false; d.pointRadius = d.pointRadius || 0; d.fill = false; });

const GENOME_W = 372, GENOME_H = 1596;
new Chart(canvasAt(0, 0, GENOME_W, GENOME_H, 0), {
  type: 'scatter',
  data: { datasets: genomeDatasets },
  options: {
    ...baseOptions,
    clip: false,
    scales: {
      x: { type: 'linear', display: false, min: 0, max: GENOME_W },
      y: { type: 'linear', display: false, reverse: true, min: kbAtY(0), max: kbAtY(GENOME_H) }
    }
  }
});
</script>
</body>
</html>
